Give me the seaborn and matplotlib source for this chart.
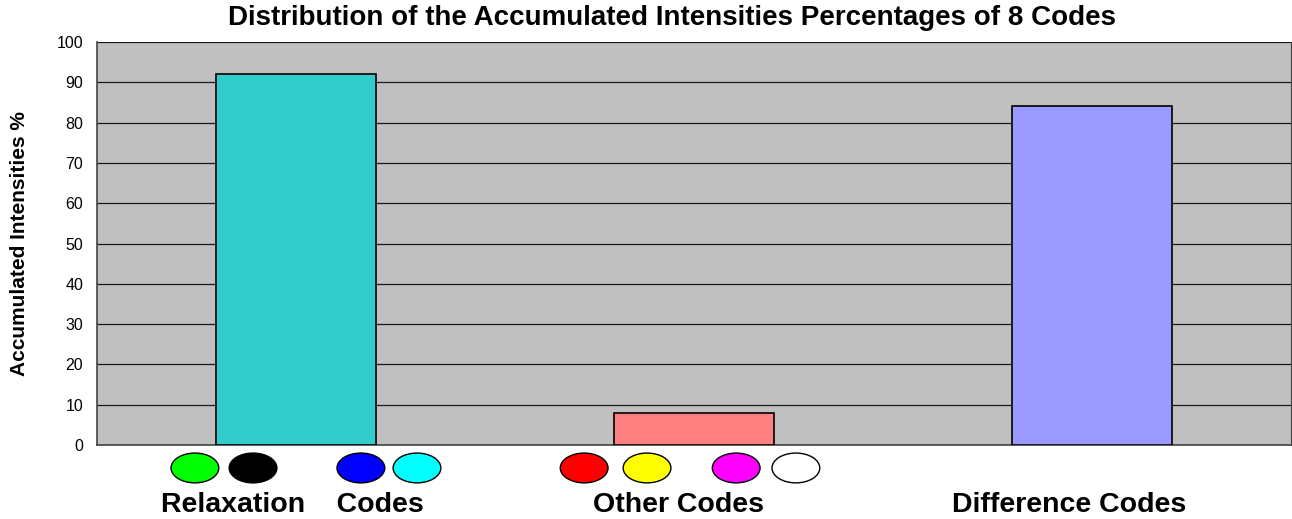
import pandas as pd
import matplotlib.pyplot as plt
from matplotlib.patches import Ellipse
import seaborn as sns

# Data
categories = ["Relaxation    Codes", "Other Codes", "Difference Codes"]
values = [92, 8, 84]
bar_colors = ["#33CCCC", "#FF8080", "#9999FF"]

# code markers drawn under each group
marker_groups = [0, 0, 0, 0, 1, 1, 1, 1]
marker_offsets = [-0.254, -0.108, 0.163, 0.304, -0.276, -0.118, 0.106, 0.256]
marker_colors = ["#00FF00", "#000000", "#0000FF", "#00FFFF",
                 "#FF0000", "#FFFF00", "#FF00FF", "#FFFFFF"]

# small horizontal nudges for the group labels
label_shift = [-0.01, -0.04, -0.057]

df = pd.DataFrame({"Code": categories, "Value": values})

sns.set_style("white")
plt.rcParams["font.family"] = ["Liberation Sans", "DejaVu Sans"]
plt.rcParams["text.color"] = "black"
plt.rcParams["axes.labelcolor"] = "black"
plt.rcParams["ytick.color"] = "black"

fig = plt.figure(figsize=(12.92, 5.19), dpi=100)
ax = fig.add_axes([97 / 1292, 1 - 445 / 519, 1194 / 1292, 403 / 519])
ax.set_facecolor("#C0C0C0")

sns.barplot(data=df, x="Code", y="Value", hue="Code", palette=bar_colors,
            saturation=1, width=0.4, edgecolor="black", linewidth=1.2,
            legend=False, ax=ax, zorder=3)

ax.set_xlim(-0.5, 2.5)
ax.set_ylim(0, 100)
ax.set_yticks(range(0, 101, 10))
ax.yaxis.grid(True, color="#1a1a1a", linewidth=0.9, zorder=0)
ax.set_axisbelow(True)
ax.tick_params(axis="y", labelsize=11.5, length=5, direction="out",
               color="#444444", labelcolor="black", pad=5)

# group separators as x ticks, no labels
ax.set_xticks([-0.5, 0.5, 1.5, 2.5])
ax.set_xticklabels([])
ax.tick_params(axis="x", length=5, direction="out", color="#222222")
ax.set_xlabel("")

for s in ["left", "bottom"]:
    ax.spines[s].set_color("#444444")
    ax.spines[s].set_linewidth(1.2)
ax.spines["top"].set_visible(False)
ax.spines["right"].set_color("#444444")

# category labels under the markers
for i, name in enumerate(categories):
    ax.text(i + label_shift[i], -14.9, name, ha="center", va="center",
            fontsize=20.5, fontweight="bold", clip_on=False)

# colored ellipses
for g, off, c in zip(marker_groups, marker_offsets, marker_colors):
    e = Ellipse((g + off, -5.7), 0.12, 7.4, facecolor=c, edgecolor="black",
                linewidth=1.0, clip_on=False)
    ax.add_patch(e)

ax.set_ylabel("Accumulated Intensities %", fontsize=15, fontweight="bold",
              labelpad=20)

fig.suptitle("Distribution of the Accumulated Intensities Percentages of 8 Codes",
             x=0.52, y=0.99, fontsize=20, fontweight="bold")

plt.savefig("out.png", dpi=100)
plt.close()
